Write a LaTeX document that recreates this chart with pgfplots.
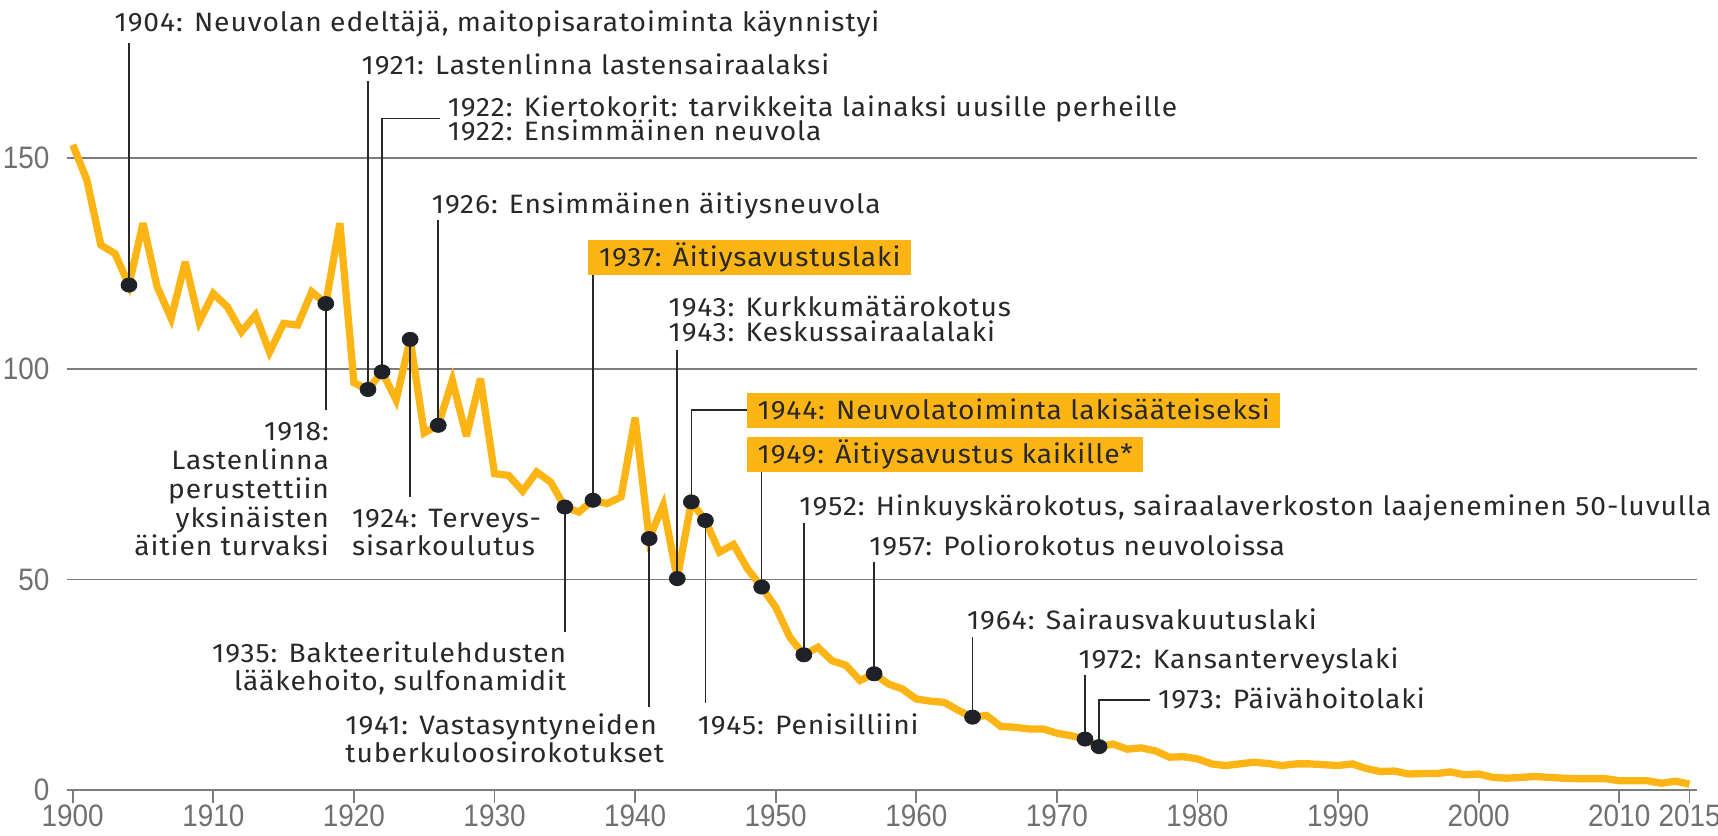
\documentclass[border=0pt]{standalone}
\usepackage{fontspec}
\setmainfont{Fira Sans}[FakeStretch=1.06, LetterSpace=3.5]
\newfontfamily\tickfont[FakeStretch=0.9]{Liberation Sans}
\usepackage{pgfplots}
\pgfplotsset{compat=1.18}
\usepackage{pgfplotstable}

\definecolor{lineor}{RGB}{252,181,21}
\definecolor{gridc}{RGB}{125,125,125}
\definecolor{txt}{RGB}{40,40,40}
\definecolor{dotc}{RGB}{30,34,40}
\definecolor{tickc}{RGB}{112,112,112}

\pgfplotstableread{
year value
1900 153.2
1901 144.9
1902 129.4
1903 127.4
1904 119.9
1905 134.6
1906 119.5
1907 112.0
1908 125.4
1909 111.2
1910 117.9
1911 114.7
1912 108.8
1913 112.8
1914 104.0
1915 110.8
1916 110.4
1917 118.3
1918 115.5
1919 134.6
1920 96.7
1921 95.1
1922 99.3
1923 92.6
1924 107.0
1925 84.8
1926 86.6
1927 97.3
1928 84.0
1929 97.7
1930 75.1
1931 74.7
1932 71.0
1933 75.5
1934 73.1
1935 67.2
1936 66.0
1937 68.8
1938 68.0
1939 69.6
1940 88.4
1941 59.7
1942 67.6
1943 50.2
1944 68.4
1945 64.0
1946 56.5
1947 58.3
1948 52.5
1949 48.2
1950 43.4
1951 36.3
1952 32.1
1953 33.9
1954 30.7
1955 29.6
1956 26.0
1957 27.6
1958 25.2
1959 24.0
1960 21.6
1961 21.1
1962 20.8
1963 18.9
1964 17.3
1965 17.7
1966 15.1
1967 14.9
1968 14.5
1969 14.5
1970 13.5
1971 12.9
1972 12.1
1973 10.3
1974 10.9
1975 9.7
1976 10.0
1977 9.3
1978 7.8
1979 7.9
1980 7.4
1981 6.2
1982 5.8
1983 6.2
1984 6.6
1985 6.3
1986 5.8
1987 6.2
1988 6.2
1989 6.0
1990 5.8
1991 6.2
1992 5.1
1993 4.4
1994 4.5
1995 3.8
1996 3.9
1997 3.9
1998 4.3
1999 3.6
2000 3.8
2001 3.0
2002 2.8
2003 3.0
2004 3.2
2005 3.0
2006 2.8
2007 2.7
2008 2.7
2009 2.7
2010 2.2
2011 2.2
2012 2.2
2013 1.6
2014 2.1
2015 1.4
}\mortality

\pgfplotstableread{
year value
1904 119.9
1918 115.5
1921 95.1
1922 99.3
1924 107.0
1926 86.6
1935 67.2
1937 68.8
1941 59.7
1943 50.2
1944 68.4
1945 64.0
1949 48.2
1952 32.1
1957 27.6
1964 17.3
1972 12.1
1973 10.3
}\events

\begin{document}
\begin{tikzpicture}[
  lbl/.style={font=\fontsize{13.3bp}{15bp}\selectfont, text=txt, inner sep=0pt},
  box/.style={lbl, fill=lineor, inner xsep=5.3bp, inner ysep=0pt, text height=13.35bp, text depth=4.15bp},
  lead/.style={txt, line width=0.8bp, mark=none}]
\useasboundingbox (-33.35bp,-23bp) rectangle (825.65bp,395bp);
\begin{axis}[
  scale only axis, width=815.15bp, height=315.85bp,
  at={(0,0)}, anchor=south west,
  xmin=1899.57, xmax=2015.53, ymin=0, ymax=150,
  axis line style={draw=none},
  clip=false,
  xtick={1900,1910,...,2010,2015},
  ytick={0,50,100,150},
  ymajorgrids, grid style={gridc, line width=0.9bp},
  xtick pos=bottom, ytick pos=left, tick align=outside, major tick length=6.5bp,
  xtick style={gridc, line width=0.9bp},
  ytick style={draw=none},
  /pgf/number format/.cd, 1000 sep={}, assume math mode=true, /pgfplots/.cd,
  ticklabel style={font=\tickfont\fontsize{15.5bp}{17bp}\selectfont, text=tickc, inner sep=0pt},
  xticklabel style={anchor=base, yshift=-11.9bp},
  yticklabel style={anchor=east, xshift=-2bp},
]
\addplot[lineor, line width=3.65bp, line join=miter, miter limit=4, mark=none] table[x=year, y=value] {\mortality};

% leader lines
\addplot[lead] coordinates {(1904,119.9) (1904,177.4)};
\addplot[lead] coordinates {(1921,95.1) (1921,168.33)};
\addplot[lead] coordinates {(1922,99.3) (1922,159.47) (1926.12,159.47)};
\addplot[lead] coordinates {(1926,86.6) (1926,135.33)};
\addplot[lead] coordinates {(1937,68.8) (1937,122.39)};
\addplot[lead] coordinates {(1943,50.2) (1943,104.46)};
\addplot[lead] coordinates {(1944,68.4) (1944,90.22) (1947.94,90.22)};
\addplot[lead] coordinates {(1949,48.2) (1949,75.5)};
\addplot[lead] coordinates {(1952,32.1) (1952,63.46)};
\addplot[lead] coordinates {(1957,27.6) (1957,54.2)};
\addplot[lead] coordinates {(1964,17.3) (1964,36.4)};
\addplot[lead] coordinates {(1972,12.1) (1972,27.3)};
\addplot[lead] coordinates {(1973,10.3) (1973,21.37) (1976.65,21.37)};
\addplot[lead] coordinates {(1918,115.5) (1918,90.22)};
\addplot[lead] coordinates {(1924,107.0) (1924,69.63)};
\addplot[lead] coordinates {(1935,67.2) (1935,37.58)};
\addplot[lead] coordinates {(1941,59.7) (1941,19.78)};
\addplot[lead] coordinates {(1945,64.0) (1945,20.58)};

% event dots
\addplot[only marks, mark=*, mark size=3.55bp, mark options={dotc, xscale=1.12}] table[x=year, y=value] {\events};

% labels above
\node[lbl, anchor=base west] at (axis cs:1902.95,180.22) {1904: Neuvolan edeltäjä, maitopisaratoiminta käynnistyi};
\node[lbl, anchor=base west] at (axis cs:1920.52,169.94) {1921: Lastenlinna lastensairaalaksi};
\node[lbl, anchor=base west] at (axis cs:1926.65,160.04) {1922: Kiertokorit: tarvikkeita lainaksi uusille perheille};
\node[lbl, anchor=base west] at (axis cs:1926.65,154.34) {1922: Ensimmäinen neuvola};
\node[lbl, anchor=base west] at (axis cs:1925.52,136.94) {1926: Ensimmäinen äitiysneuvola};
\node[box, anchor=base west] at (axis cs:1936.65,124.36) {1937: Äitiysavustuslaki};
\node[lbl, anchor=base west] at (axis cs:1942.36,112.49) {1943: Kurkkumätärokotus};
\node[lbl, anchor=base west] at (axis cs:1942.36,106.55) {1943: Keskussairaalalaki};
\node[box, anchor=base west] at (axis cs:1947.94,87.92) {1944: Neuvolatoiminta lakisääteiseksi};
\node[box, anchor=base west] at (axis cs:1947.94,77.47) {1949: Äitiysavustus kaikille*};
\node[lbl, anchor=base west] at (axis cs:1951.66,65.12) {1952: Hinkuyskärokotus, sairaalaverkoston laajeneminen 50-luvulla};
\node[lbl, anchor=base west] at (axis cs:1956.63,55.75) {1957: Poliorokotus neuvoloissa};
\node[lbl, anchor=base west] at (axis cs:1963.58,38.13) {1964: Sairausvakuutuslaki};
\node[lbl, anchor=base west] at (axis cs:1971.51,28.85) {1972: Kansanterveyslaki};
\node[lbl, anchor=base west] at (axis cs:1977.18,19.35) {1973: Päivähoitolaki};

% labels below
\node[lbl, anchor=base east] at (axis cs:1918.25,82.88) {1918:};
\node[lbl, anchor=base east] at (axis cs:1918.25,76.06) {Lastenlinna};
\node[lbl, anchor=base east] at (axis cs:1918.25,69.23) {perustettiin};
\node[lbl, anchor=base east] at (axis cs:1918.25,62.41) {yksinäisten};
\node[lbl, anchor=base east] at (axis cs:1918.25,55.58) {äitien turvaksi};
\node[lbl, anchor=base west] at (axis cs:1919.84,62.41) {1924: Terveys-};
\node[lbl, anchor=base west] at (axis cs:1919.84,55.58) {sisarkoulutus};
\node[lbl, anchor=base east] at (axis cs:1935.13,30.27) {1935: Bakteeritulehdusten};
\node[lbl, anchor=base east] at (axis cs:1935.13,23.58) {lääkehoito, sulfonamidit};
\node[lbl, anchor=base west] at (axis cs:1919.37,13.25) {1941: Vastasyntyneiden};
\node[lbl, anchor=base west] at (axis cs:1919.37,6.53) {tuberkuloosirokotukset};
\node[lbl, anchor=base west] at (axis cs:1944.43,13.25) {1945: Penisilliini};
\end{axis}
\end{tikzpicture}
\end{document}
